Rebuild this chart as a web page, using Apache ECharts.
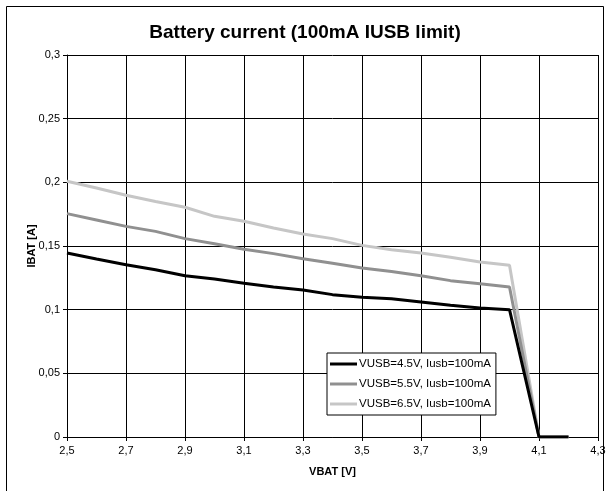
<!DOCTYPE html>
<html>
<head>
<meta charset="utf-8">
<script src="https://cdn.jsdelivr.net/npm/echarts@6/dist/echarts.min.js"></script>
<style>
html,body{margin:0;padding:0;background:#fff;}
#chart{width:610px;height:491px;}
</style>
</head>
<body>
<div id="chart"></div>
<script>
var titleText = 'Battery current (100mA IUSB limit)';
var xName = 'VBAT [V]';
var yName = 'IBAT [A]';
var seriesNames = ['VUSB=4.5V, Iusb=100mA', 'VUSB=5.5V, Iusb=100mA', 'VUSB=6.5V, Iusb=100mA'];
var vbat = [2.5, 2.6, 2.7, 2.8, 2.9, 3.0, 3.1, 3.2, 3.3, 3.4, 3.5, 3.6, 3.7, 3.8, 3.9, 4.0, 4.1, 4.2];
var ibat45 = [0.1445, 0.1398, 0.1353, 0.1314, 0.1267, 0.1240, 0.1207, 0.1178, 0.1154, 0.1118, 0.1097, 0.1086, 0.1060, 0.1034, 0.1013, 0.1000, 0, 0];
var ibat55 = [0.1754, 0.1704, 0.1654, 0.1615, 0.1558, 0.1518, 0.1474, 0.1440, 0.1400, 0.1364, 0.1327, 0.1300, 0.1267, 0.1228, 0.1204, 0.1178, 0, 0];
var ibat65 = [0.2008, 0.1955, 0.1898, 0.1850, 0.1804, 0.1733, 0.1694, 0.1641, 0.1594, 0.1558, 0.1505, 0.1471, 0.1445, 0.1411, 0.1374, 0.1348, 0, 0];
var colors = ['#000000', '#909090', '#c6c6c6'];

function pairs(ys) { return vbat.map(function (x, i) { return [x, ys[i]]; }); }
function comma(v) { return String(Math.round(v * 1000) / 1000).replace('.', ','); }

var chart = echarts.init(document.getElementById('chart'), null, {renderer: 'canvas'});
var font = 'Liberation Sans, Arial, sans-serif';
var allData = [ibat45, ibat55, ibat65];
chart.setOption({
  animation: false,
  backgroundColor: '#fff',
  textStyle: {fontFamily: font},
  title: {
    text: titleText, left: 'center', top: 23, padding: 0,
    textStyle: {fontSize: 19, fontWeight: 'bold', color: '#000', fontFamily: font}
  },
  graphic: [{
    type: 'rect', z: -1, silent: true,
    shape: {x: 6.5, y: 6.5, width: 597, height: 495},
    style: {fill: 'none', stroke: '#000', lineWidth: 1}
  }],
  legend: {
    orient: 'vertical', left: 327, top: 353,
    backgroundColor: '#fff', borderColor: '#000', borderWidth: 1,
    padding: [5, 5, 5, 3], itemGap: 8, itemWidth: 27, itemHeight: 3,
    icon: 'rect',
    textStyle: {fontSize: 11.5, color: '#000', fontFamily: font, padding: [0, 0, 0, -3]},
    data: seriesNames
  },
  grid: {left: 67, right: 12, top: 55, bottom: 54, containLabel: false},
  xAxis: {
    type: 'value', min: 2.5, max: 4.3, interval: 0.2,
    name: xName, nameLocation: 'middle', nameGap: 29, nameMoveOverlap: false,
    nameTextStyle: {fontSize: 11, fontWeight: 'bold', color: '#000'},
    axisLine: {lineStyle: {color: '#000', width: 1}},
    axisTick: {show: true, length: 4, lineStyle: {color: '#000'}},
    axisLabel: {formatter: comma, color: '#000', fontSize: 11, margin: 8},
    splitLine: {show: true, lineStyle: {color: '#000', width: 1}}
  },
  yAxis: {
    type: 'value', min: 0, max: 0.3, interval: 0.05,
    name: yName, nameLocation: 'middle', nameGap: 30, nameMoveOverlap: false,
    nameTextStyle: {fontSize: 11, fontWeight: 'bold', color: '#000'},
    axisLine: {show: true, lineStyle: {color: '#000', width: 1}},
    axisTick: {show: true, length: 4, lineStyle: {color: '#000'}},
    axisLabel: {formatter: comma, color: '#000', fontSize: 11, margin: 7},
    splitLine: {show: true, lineStyle: {color: '#000', width: 1}}
  },
  series: seriesNames.map(function (n, i) {
    return {
      name: n, type: 'line', data: pairs(allData[i]),
      symbol: 'none', showSymbol: false,
      lineStyle: {color: colors[i], width: 3},
      itemStyle: {color: colors[i]},
      z: 10 - i
    };
  })
});
</script>
</body>
</html>
